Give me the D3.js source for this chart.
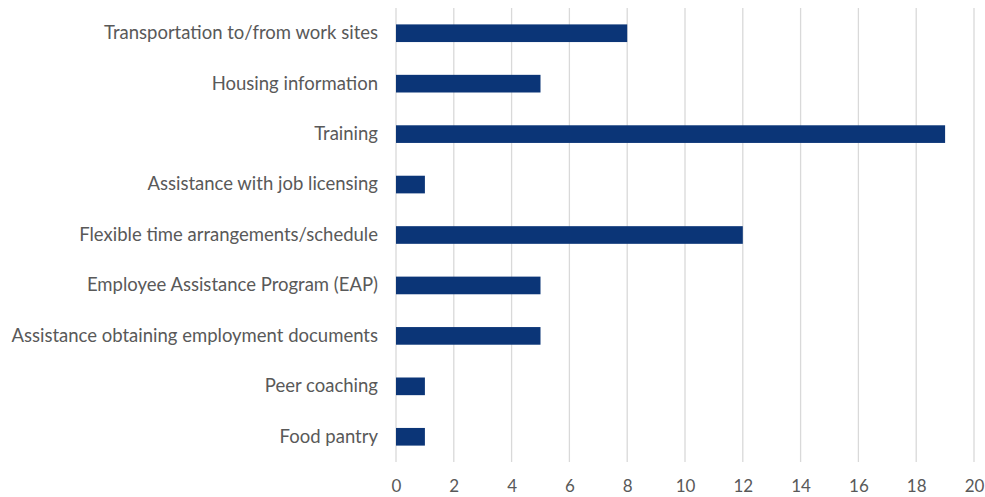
<!DOCTYPE html>
<html>
<head>
<meta charset="utf-8">
<script src="https://cdn.jsdelivr.net/npm/d3@7"></script>
<style>
  html, body { margin: 0; padding: 0; background: #fff; }
  svg text { font-family: Lato, "Open Sans", sans-serif; fill: #595959; }
</style>
</head>
<body>
<svg id="chart" width="985" height="497"></svg>
<script>
const categories = [
  "Transportation to/from work sites",
  "Housing information",
  "Training",
  "Assistance with job licensing",
  "Flexible time arrangements/schedule",
  "Employee Assistance Program (EAP)",
  "Assistance obtaining employment documents",
  "Peer coaching",
  "Food pantry"
];
const counts = [8, 5, 19, 1, 12, 5, 5, 1, 1];
const xTicks = [0, 2, 4, 6, 8, 10, 12, 14, 16, 18, 20];

const margin = { top: 8, left: 396, right: 11, bottom: 35 };
const width = 985, height = 497;
const svg = d3.select("#chart");

const x = d3.scaleLinear().domain([0, 20]).range([margin.left, width - margin.right]);
const y = d3.scaleBand().domain(categories)
  .range([margin.top, height - margin.bottom])
  .paddingInner(0.65).paddingOuter(0.325);

// vertical gridlines
svg.append("g").selectAll("line").data(xTicks).join("line")
  .attr("x1", d => x(d)).attr("x2", d => x(d))
  .attr("y1", margin.top).attr("y2", height - margin.bottom)
  .attr("stroke", "#d9d9d9").attr("stroke-width", 1.3);

// bars
svg.append("g").selectAll("rect").data(categories).join("rect")
  .attr("x", x(0))
  .attr("y", d => y(d))
  .attr("width", (d, i) => x(counts[i]) - x(0))
  .attr("height", y.bandwidth())
  .attr("fill", "#0b3577");

// category axis
const yAxis = svg.append("g")
  .attr("transform", `translate(${margin.left},0)`)
  .call(d3.axisLeft(y).tickSize(0).tickPadding(18));
yAxis.select(".domain").remove();
yAxis.selectAll("text").style("font-size", "18.5px");

// value axis
const xAxis = svg.append("g")
  .attr("transform", `translate(0,${height - margin.bottom})`)
  .call(d3.axisBottom(x).tickValues(xTicks).tickSize(0).tickPadding(18));
xAxis.select(".domain").remove();
xAxis.selectAll("text").style("font-size", "17px");
</script>
</body>
</html>
